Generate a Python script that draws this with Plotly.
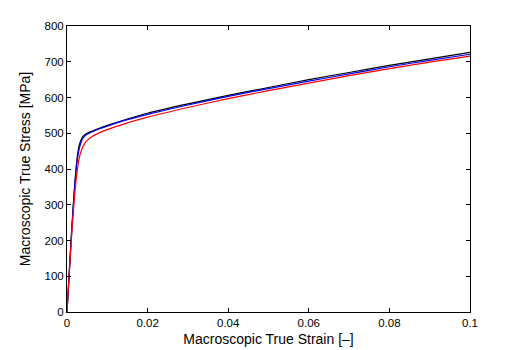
import plotly.graph_objects as go

# strain values shared by all curves
strain = [0, 0.0005, 0.001, 0.0015, 0.002, 0.0025, 0.003, 0.0035, 0.004, 0.005,
          0.006, 0.008, 0.01, 0.015, 0.02, 0.03, 0.04, 0.05, 0.06, 0.07, 0.08, 0.09, 0.1]

stress_black = [0, 100, 200, 290, 370, 430, 465, 482, 492, 500,
                505, 514, 522, 540, 556, 582, 606, 628, 650, 670, 690, 708, 726]
stress_blue = [0, 98, 196, 284, 362, 420, 455, 475, 487, 497,
               503, 512, 520, 538, 553, 579, 603, 625, 646, 666, 686, 704, 721]
stress_red = [0, 95, 188, 270, 340, 392, 428, 450, 464, 480,
              489, 501, 510, 529, 545, 572, 597, 619, 640, 661, 681, 699, 716]

curves = [
    ('black', stress_black, '#000000'),
    ('blue', stress_blue, '#0000ff'),
    ('red', stress_red, '#ff0000'),
]

fig = go.Figure()
for name, ys, color in curves:
    fig.add_trace(go.Scatter(
        x=strain, y=ys, mode='lines', name=name,
        line=dict(color=color, width=1.2, shape='spline', smoothing=0.6),
        showlegend=False
    ))

axis_common = dict(
    showline=True, linecolor='black', linewidth=1, mirror='ticks',
    ticks='inside', ticklen=4, tickcolor='black', showgrid=False, zeroline=False,
    automargin=False,
    tickfont=dict(family='Liberation Sans, Arial', size=11.5, color='black'),
)

# page body has an 8px margin, so the figure is a bit smaller than the window
fig.update_layout(
    width=510, height=342,
    margin=dict(l=59, r=48, t=18, b=38),
    plot_bgcolor='white', paper_bgcolor='white',
    font=dict(family='Liberation Sans, Arial', size=11.5, color='black'),
    xaxis=dict(range=[0, 0.1], tickvals=[0, 0.02, 0.04, 0.06, 0.08, 0.1],
               ticktext=['0', '0.02', '0.04', '0.06', '0.08', '0.1'],
               title=dict(text='Macroscopic True Strain [–]', standoff=6),
               **axis_common),
    yaxis=dict(range=[0, 800], dtick=100,
               title=dict(text='Macroscopic True Stress [MPa]', standoff=10),
               **axis_common),
)

fig.write_html("out.html")
